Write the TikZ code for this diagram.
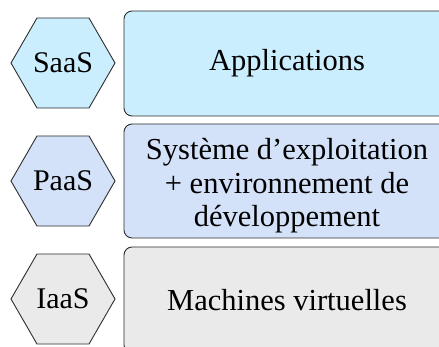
\documentclass[tikz,border=0pt]{standalone}
\usepackage{fontspec}
\setmainfont{Liberation Serif}
\usetikzlibrary{shapes.geometric}
\definecolor{saasfill}{RGB}{202,238,254}
\definecolor{paasfill}{RGB}{212,226,249}
\definecolor{iaasfill}{RGB}{234,234,234}
\definecolor{edge}{RGB}{45,45,45}
\tikzset{
  hexa/.style={regular polygon, regular polygon sides=6, minimum size=104pt,
    inner sep=0pt, draw=edge, line width=0.9pt, font=\fontsize{30}{33}\selectfont},
  layer/.style={draw=edge, line width=0.9pt, rounded corners=8pt},
  layertext/.style={align=center, font=\fontsize{30.5}{33.5}\selectfont, inner sep=0pt}
}
\begin{document}
\begin{tikzpicture}[x=1pt, y=-1pt]
  \useasboundingbox (0,0) rectangle (439,347);
  \clip (0,0) rectangle (439,347);
  % layer boxes (they run past the right and bottom borders)
  \draw[layer, fill=saasfill] (124,11) rectangle (451,116);
  \draw[layer, fill=paasfill] (124,124) rectangle (451,238);
  \draw[layer, fill=iaasfill] (124,247) rectangle (451,353);
  \node[layertext] (app) at (287,63.5) {Applications};
  \node[layertext] (sys) at (287,186) {Système d’exploitation\\+ environnement de\\développement};
  \node[layertext] (vm) at (287,300) {Machines virtuelles};
  % service models
  \node[hexa, fill=saasfill] (saas) at (63,63) {SaaS};
  \node[hexa, fill=paasfill] (paas) at (63,181) {PaaS};
  \node[hexa, fill=iaasfill] (iaas) at (63,299) {IaaS};
\end{tikzpicture}
\end{document}
